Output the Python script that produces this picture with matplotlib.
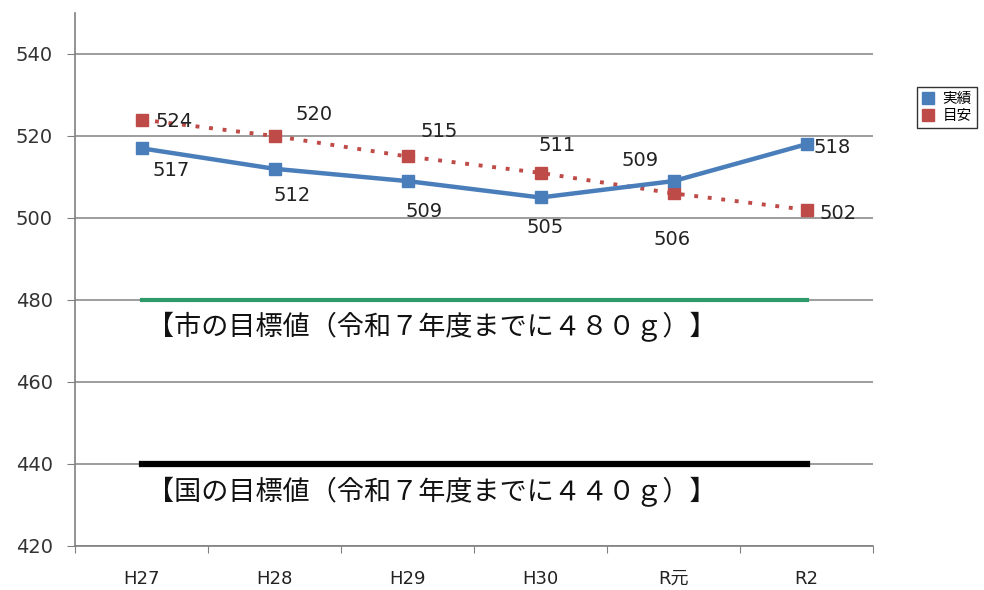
import numpy as np
import matplotlib
matplotlib.use("Agg")
import matplotlib.pyplot as plt
from matplotlib.lines import Line2D

plt.rcParams["font.family"] = ["DejaVu Sans", "Noto Sans CJK JP"]

categories = ["H27", "H28", "H29", "H30", "R元", "R2"]
actual = [517, 512, 509, 505, 509, 518]
target = [524, 520, 515, 511, 506, 502]
city_goal = 480
nation_goal = 440
y_ticks = [420, 440, 460, 480, 500, 520, 540]

# label offsets in pixels (dx, dy) for each point
actual_off = [(30, -22), (18, -27), (17, -30), (5, -30), (-33, 21), (26, -3)]
target_off = [(33, -2), (40, 21), (32, 25), (17, 27), (-1, -46), (32, -4)]

blue = "#4A7EBB"
red = "#BE4B48"

fig = plt.figure(figsize=(9.84, 5.9), dpi=100)
ax = fig.add_axes([75 / 984, 44 / 590, 798 / 984, 533 / 590])

x = np.arange(len(categories)) + 0.5

ax.set_ylim(420, 550)
ax.set_xlim(0, len(categories))
ax.set_yticks(y_ticks)
ax.set_yticklabels([str(v) for v in y_ticks], fontsize=14, color="#333333")
ax.yaxis.grid(True, color="#8c8c8c", lw=1.2)
ax.set_axisbelow(True)

ax.set_xticks(np.arange(len(categories) + 1))
ax.set_xticklabels([])
ax.set_xticks(x, minor=True)
ax.set_xticklabels(categories, minor=True, fontsize=13, color="#222222")
ax.tick_params(axis="x", which="minor", length=0, pad=17)
ax.tick_params(axis="x", which="major", length=5, color="#808080")
ax.tick_params(axis="y", length=6, color="#808080", pad=10)

for side in ["top", "right"]:
    ax.spines[side].set_visible(False)
for side in ["left", "bottom"]:
    ax.spines[side].set_color("#808080")
    ax.spines[side].set_linewidth(1.2)

# goal lines
ax.plot([x[0], x[-1]], [city_goal, city_goal], color="#2E9A6A", lw=3, zorder=2)
ax.plot([x[0], x[-1]], [nation_goal, nation_goal], color="black", lw=4.5, zorder=2)

ax.plot(x, target, color=red, lw=2.8, ls=(0, (1, 2.5)), marker="s", ms=9,
        label="目安", zorder=3)
ax.plot(x, actual, color=blue, lw=3.2, marker="s", ms=9, label="実績", zorder=4)

for xi, v, (dx, dy) in zip(x, actual, actual_off):
    ax.annotate(str(v), (xi, v), xytext=(dx * 0.72, dy * 0.72), textcoords="offset points",
                ha="center", va="center", fontsize=14, color="#222222")
for xi, v, (dx, dy) in zip(x, target, target_off):
    ax.annotate(str(v), (xi, v), xytext=(dx * 0.72, dy * 0.72), textcoords="offset points",
                ha="center", va="center", fontsize=14, color="#222222")

jp = ["Noto Sans CJK JP", "DejaVu Sans"]
ax.text(2.68, 473.5, "【市の目標値（令和７年度までに４８０ｇ）】", ha="center", va="center",
        fontsize=19.5, family=jp, color="#111111")
ax.text(2.68, 433.3, "【国の目標値（令和７年度までに４４０ｇ）】", ha="center", va="center",
        fontsize=19.5, family=jp, color="#111111")

leg_handles = [Line2D([], [], ls="none", marker="s", ms=8, color=blue),
               Line2D([], [], ls="none", marker="s", ms=8, color=red)]
leg = fig.legend(leg_handles, ["実績", "目安"], loc="upper left",
                 bbox_to_anchor=(917 / 984, 1 - 87 / 590), frameon=True,
                 fancybox=False, edgecolor="black",
                 prop={"family": jp, "size": 10.5}, handlelength=0.8,
                 handletextpad=0.6, borderpad=0.35, labelspacing=0.2,
                 borderaxespad=0)
leg.get_frame().set_linewidth(1.0)

fig.savefig("out.png", dpi=100)
